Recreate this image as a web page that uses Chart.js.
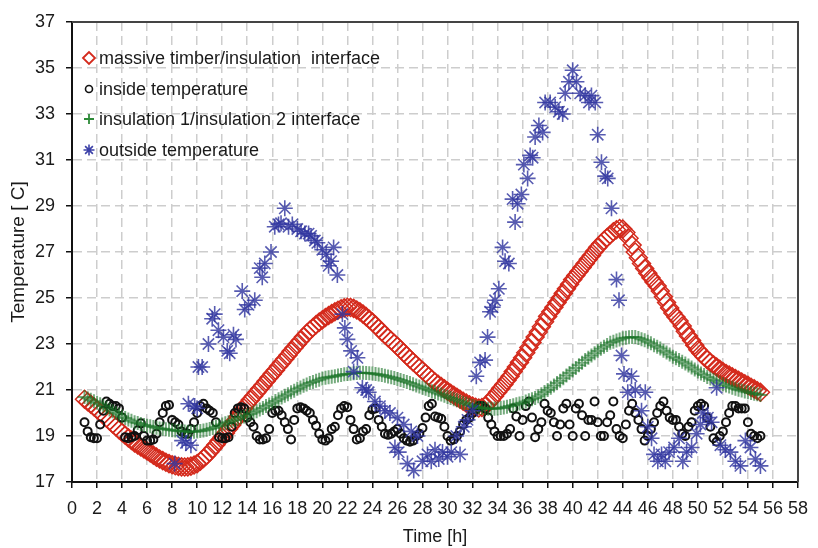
<!DOCTYPE html>
<html>
<head>
<meta charset="utf-8">
<script src="https://cdn.jsdelivr.net/npm/chart.js@4.4.0/dist/chart.umd.min.js"></script>
<style>
  html, body { margin: 0; padding: 0; background: #fff; }
  .chart-container { position: relative; width: 818px; height: 548px; }
</style>
</head>
<body>
<div class="chart-container">
  <canvas id="myChart" width="818" height="548"></canvas>
</div>
<script>
// time axis: one reading every 15 min, from hour 1 to hour 55
const startHour = 1;
const stepHour = 0.25;

const seriesLabels = [
  "massive timber/insulation  interface",
  "inside temperature",
  "insulation 1/insulation 2 interface",
  "outside temperature"
];

const timberInterface = [
  20.60,20.49,20.38,20.27,20.15,20.03,19.90,19.78,19.65,19.52,19.40,19.27,
  19.15,19.03,18.92,18.81,18.70,18.61,18.52,18.44,18.35,18.26,18.17,18.08,
  18.00,17.93,17.86,17.80,17.75,17.71,17.68,17.66,17.65,17.66,17.69,17.74,
  17.80,17.90,18.02,18.15,18.30,18.46,18.62,18.79,18.95,19.12,19.30,19.47,
  19.65,19.84,20.03,20.22,20.40,20.57,20.73,20.89,21.05,21.21,21.38,21.54,
  21.70,21.86,22.03,22.19,22.35,22.51,22.68,22.84,23.00,23.15,23.31,23.46,
  23.60,23.72,23.84,23.95,24.05,24.15,24.24,24.32,24.40,24.47,24.53,24.57,
  24.60,24.59,24.55,24.48,24.40,24.30,24.19,24.07,23.95,23.82,23.68,23.54,
  23.40,23.27,23.15,23.02,22.90,22.76,22.62,22.49,22.35,22.22,22.10,21.97,
  21.85,21.72,21.60,21.47,21.35,21.25,21.15,21.05,20.95,20.86,20.77,20.68,
  20.60,20.51,20.43,20.36,20.30,20.25,20.22,20.24,20.30,20.42,20.57,20.73,
  20.90,21.07,21.24,21.42,21.60,21.80,22.00,22.20,22.40,22.62,22.85,23.07,
  23.30,23.52,23.75,23.97,24.20,24.40,24.60,24.80,25.00,25.20,25.40,25.60,
  25.80,25.98,26.15,26.33,26.50,26.68,26.85,27.03,27.20,27.36,27.50,27.63,
  27.75,27.88,27.97,28.02,28.00,27.85,27.60,27.30,27.00,26.75,26.50,26.28,
  26.08,25.88,25.70,25.52,25.30,25.05,24.80,24.57,24.35,24.17,24.00,23.78,
  23.55,23.35,23.15,22.95,22.75,22.60,22.45,22.32,22.20,22.10,22.00,21.90,
  21.80,21.72,21.65,21.57,21.50,21.42,21.35,21.27,21.20,21.12,21.05,20.97,
  20.90
];

const insideTemp = [
  19.6,19.2,18.95,18.9,18.9,19.5,20.1,20.5,20.4,20.3,20.3,20.2,
  19.8,18.95,18.9,18.95,19.0,19.25,19.55,19.0,18.8,18.8,18.85,19.1,
  19.6,20.0,20.3,20.35,19.7,19.6,19.5,19.2,19.1,19.1,19.3,19.6,
  20.0,20.3,20.4,20.2,20.1,20.0,19.6,18.95,18.9,18.9,18.95,19.4,
  20.0,20.2,20.25,20.2,19.8,19.6,19.4,19.0,18.85,18.85,18.9,19.3,
  20.0,20.1,20.1,19.9,19.6,19.3,18.85,19.7,20.2,20.25,20.2,20.1,
  20.0,19.7,19.45,19.1,18.85,18.8,18.9,19.3,19.4,19.9,20.2,20.3,
  20.25,19.7,19.3,18.85,18.9,19.2,19.3,19.9,20.15,20.2,19.7,19.4,
  19.1,19.05,19.1,19.2,19.3,19.1,18.9,18.8,18.75,18.8,19.0,19.1,
  19.35,19.8,20.3,20.4,19.85,19.8,19.75,19.4,19.0,18.8,18.85,19.0,
  19.2,19.5,19.7,19.8,20.0,20.15,20.3,20.3,20.2,19.8,19.5,19.2,
  19.0,19.0,19.0,19.1,19.3,20.2,19.85,19.0,19.7,20.3,20.5,19.8,
  18.95,19.3,19.6,20.4,20.1,20.0,19.6,19.0,19.5,20.2,20.4,19.5,
  19.0,20.2,20.4,19.9,19.0,19.7,19.7,20.5,19.6,19.0,19.0,19.6,
  19.9,20.5,19.3,19.0,18.9,19.5,20.1,20.4,20.0,19.7,19.3,18.8,
  19.0,19.3,19.6,20.0,20.3,20.5,20.1,19.8,19.7,19.7,19.4,19.1,
  19.0,19.4,19.6,20.1,20.3,20.4,20.3,19.8,19.4,18.9,18.75,19.0,
  19.2,19.6,20.0,20.3,20.3,20.2,20.2,20.2,19.6,19.1,19.0,18.9,
  19.0
];

const insulationInterface = [
  20.70,20.64,20.58,20.51,20.45,20.38,20.30,20.23,20.15,20.08,20.00,19.93,
  19.85,19.78,19.72,19.66,19.60,19.56,19.52,19.48,19.45,19.42,19.39,19.36,
  19.33,19.31,19.29,19.27,19.25,19.24,19.22,19.21,19.20,19.19,19.19,19.19,
  19.20,19.22,19.24,19.27,19.30,19.35,19.40,19.45,19.50,19.55,19.60,19.65,
  19.70,19.75,19.80,19.85,19.90,19.96,20.02,20.08,20.15,20.22,20.30,20.37,
  20.45,20.52,20.60,20.67,20.75,20.82,20.90,20.97,21.05,21.11,21.18,21.24,
  21.30,21.35,21.40,21.45,21.50,21.53,21.55,21.58,21.60,21.63,21.65,21.68,
  21.70,21.71,21.73,21.74,21.75,21.75,21.74,21.73,21.72,21.70,21.67,21.65,
  21.62,21.59,21.55,21.52,21.48,21.44,21.39,21.35,21.30,21.25,21.20,21.15,
  21.10,21.05,21.00,20.95,20.90,20.85,20.80,20.75,20.70,20.65,20.60,20.55,
  20.50,20.45,20.40,20.35,20.30,20.27,20.24,20.22,20.20,20.19,20.18,20.19,
  20.20,20.22,20.24,20.27,20.30,20.34,20.38,20.41,20.45,20.50,20.55,20.60,
  20.65,20.73,20.82,20.91,21.00,21.10,21.20,21.30,21.40,21.51,21.63,21.74,
  21.85,21.96,22.08,22.19,22.30,22.40,22.50,22.60,22.70,22.79,22.88,22.96,
  23.05,23.10,23.15,23.20,23.25,23.27,23.29,23.30,23.30,23.26,23.21,23.16,
  23.10,23.03,22.95,22.88,22.80,22.71,22.63,22.54,22.45,22.38,22.30,22.23,
  22.15,22.06,21.98,21.89,21.80,21.72,21.65,21.57,21.50,21.44,21.38,21.31,
  21.25,21.20,21.15,21.10,21.05,21.01,20.98,20.94,20.90,20.87,20.84,20.81,
  20.78
];

// outside readings are irregular, so they carry their own times
const outsideHours = [
  8.2,8.8,9.1,9.3,9.5,9.8,10.0,10.1,10.4,10.9,11.2,11.4,11.7,12.1,12.4,12.6,12.9,13.1,
  13.6,13.8,14.1,14.6,15.0,15.2,15.4,15.9,16.2,16.5,16.7,17.0,17.3,17.6,18.0,18.3,18.6,
  18.9,19.1,19.4,19.6,20.0,20.3,20.5,20.7,20.9,21.2,21.6,21.8,22.0,22.3,22.5,22.8,23.2,
  23.5,23.7,24.2,24.6,25.0,25.4,25.8,26.0,26.1,26.5,26.8,27.1,27.3,27.6,28.0,28.4,28.7,
  29.0,29.3,29.6,30.0,30.3,30.7,31.0,31.3,31.6,32.0,32.3,32.6,33.0,33.2,33.4,33.6,33.8,
  34.1,34.4,34.6,34.9,35.2,35.4,35.6,35.9,36.1,36.4,36.6,36.8,37.0,37.3,37.6,37.8,38.2,
  38.6,38.9,39.2,39.4,39.7,40.0,40.3,40.6,41.0,41.3,41.5,41.8,42.0,42.3,42.6,42.8,43.1,
  43.5,43.7,43.9,44.1,44.4,44.7,45.0,45.5,45.8,46.0,46.3,46.5,46.8,47.1,47.4,47.7,48.1,
  48.5,48.8,49.1,49.5,49.9,50.2,50.4,50.8,51.1,51.5,51.8,52.2,52.6,53.0,53.4,53.8,54.2,
  54.6,55.0
];
const outsideTemp = [
  17.8,18.8,18.7,20.4,18.6,20.3,20.2,22.0,22.0,23.0,24.1,24.3,23.6,23.3,22.7,22.6,23.4,23.2,
  25.3,24.5,24.7,24.9,26.3,25.9,26.5,27.0,28.1,28.2,28.25,28.9,28.1,28.2,28.0,27.9,27.8,
  27.8,27.7,27.5,27.4,27.1,26.9,26.4,26.6,27.2,26.0,24.3,23.7,23.2,22.7,21.8,22.4,21.1,
  21.0,20.9,20.5,20.3,20.1,20.0,18.5,19.8,18.3,19.5,17.8,19.2,17.5,19.0,17.9,18.2,17.9,
  18.4,18.0,18.3,18.1,18.3,19.0,18.2,19.4,19.7,20.1,21.6,22.2,22.3,23.3,24.4,24.6,24.9,
  25.4,27.2,26.6,26.5,29.3,28.3,29.1,29.5,30.8,30.2,31.2,31.1,32.0,32.5,32.2,33.5,33.5,
  33.3,33.1,33.0,33.9,34.4,34.9,34.4,33.9,33.8,33.5,33.8,33.5,32.1,30.9,30.3,30.2,28.9,
  25.8,24.9,22.5,21.7,20.9,21.6,21.0,20.1,20.9,19.4,18.9,18.2,17.9,18.2,17.9,18.3,18.5,
  18.9,17.9,18.3,18.5,19.1,19.5,20.0,19.8,19.6,21.1,18.6,18.4,18.3,17.9,17.7,18.8,18.5,
  18.0,17.7
];

const timeTicks = { min: 0, max: 58, step: 2 };
const tempTicks = { min: 17, max: 37, step: 2 };

const quarterHours = timberInterface.map((_, i) => startHour + i * stepHour);
const toPoints = (xs, ys) => ys.map((y, i) => ({ x: xs[i], y: y }));

Chart.defaults.font.family = "'Liberation Sans', Arial, sans-serif";
Chart.defaults.color = "#1a1a1a";

// legend sits inside the plot, top-left
const insideLegend = {
  id: "insideLegend",
  afterDraw(chart) {
    const ctx = chart.ctx;
    const markers = [
      { pointStyle: "rectRot", radius: 6, color: "#d42a1c", width: 1.8 },
      { pointStyle: "circle", radius: 3.5, color: "#111", width: 1.6 },
      { pointStyle: "cross", radius: 5, color: "#2d8a38", width: 1.8 },
      { pointStyle: "star", radius: 5.5, color: "#3c41a8", width: 1.6 }
    ];
    const rowY = [58, 89, 119, 150];
    ctx.save();
    ctx.font = "18px 'Liberation Sans', Arial, sans-serif";
    ctx.textBaseline = "middle";
    ctx.fillStyle = "#1a1a1a";
    seriesLabels.forEach((label, i) => {
      const m = markers[i];
      ctx.save();
      ctx.strokeStyle = m.color;
      ctx.fillStyle = "rgba(0,0,0,0)";
      ctx.lineWidth = m.width;
      Chart.helpers.drawPoint(ctx, { pointStyle: m.pointStyle, radius: m.radius, rotation: 0, borderWidth: m.width }, 89, rowY[i]);
      ctx.restore();
      ctx.fillText(label, 99, rowY[i] + 1);
    });
    ctx.restore();
  }
};

// top and right edges of the plot box
const plotFrame = {
  id: "plotFrame",
  afterDraw(chart) {
    const { ctx, chartArea: a } = chart;
    ctx.save();
    ctx.strokeStyle = "#444";
    ctx.lineWidth = 2;
    ctx.beginPath();
    ctx.moveTo(a.left, a.top);
    ctx.lineTo(a.right, a.top);
    ctx.lineTo(a.right, a.bottom);
    ctx.stroke();
    ctx.restore();
  }
};

const gridStyle = {
  color: "#cdcdcd",
  lineWidth: 1.5,
  tickColor: "#111",
  tickLength: 6,
  tickWidth: 1.5
};

new Chart(document.getElementById("myChart").getContext("2d"), {
  type: "scatter",
  data: {
    datasets: [
      {
        label: seriesLabels[0],
        data: toPoints(quarterHours, timberInterface),
        pointStyle: "rectRot",
        pointRadius: 9,
        pointBorderWidth: 1.5,
        pointBorderColor: "#d42a1c",
        pointBackgroundColor: "rgba(0,0,0,0)",
        order: 4
      },
      {
        label: seriesLabels[1],
        data: toPoints(quarterHours, insideTemp),
        pointStyle: "circle",
        pointRadius: 4,
        pointBorderWidth: 2,
        pointBorderColor: "#111",
        pointBackgroundColor: "rgba(0,0,0,0)",
        order: 3
      },
      {
        label: seriesLabels[2],
        data: toPoints(quarterHours, insulationInterface),
        pointStyle: "cross",
        pointRadius: 7,
        pointBorderWidth: 2,
        pointBorderColor: "rgba(25,115,38,0.6)",
        pointBackgroundColor: "rgba(0,0,0,0)",
        order: 2
      },
      {
        label: seriesLabels[3],
        data: toPoints(outsideHours, outsideTemp),
        pointStyle: "star",
        pointRadius: 8,
        pointBorderWidth: 1.6,
        pointBorderColor: "rgba(50,55,160,0.82)",
        pointBackgroundColor: "rgba(0,0,0,0)",
        order: 1
      }
    ]
  },
  options: {
    responsive: false,
    animation: false,
    events: [],
    layout: { padding: { left: 0, right: 13, top: 22, bottom: 0 } },
    plugins: { legend: { display: false }, tooltip: { enabled: false } },
    scales: {
      x: {
        type: "linear",
        min: timeTicks.min,
        max: timeTicks.max,
        afterFit: (scale) => { scale.height = 66; },
        ticks: { stepSize: timeTicks.step, autoSkip: false, maxRotation: 0, padding: 10, font: { size: 18 } },
        grid: gridStyle,
        border: { display: true, color: "#111", width: 2, dash: [9, 5] },
        title: { display: true, text: "Time [h]", font: { size: 18 }, padding: { top: 0, bottom: 0 } }
      },
      y: {
        min: tempTicks.min,
        max: tempTicks.max,
        afterFit: (scale) => { scale.width = 72; },
        ticks: { stepSize: tempTicks.step, padding: 11, font: { size: 18 } },
        grid: gridStyle,
        border: { display: true, color: "#111", width: 2, dash: [9, 5] },
        title: { display: true, text: "Temperature [ C]", font: { size: 19 }, padding: { top: 7, bottom: 0 } }
      }
    }
  },
  plugins: [insideLegend, plotFrame]
});
</script>
</body>
</html>
